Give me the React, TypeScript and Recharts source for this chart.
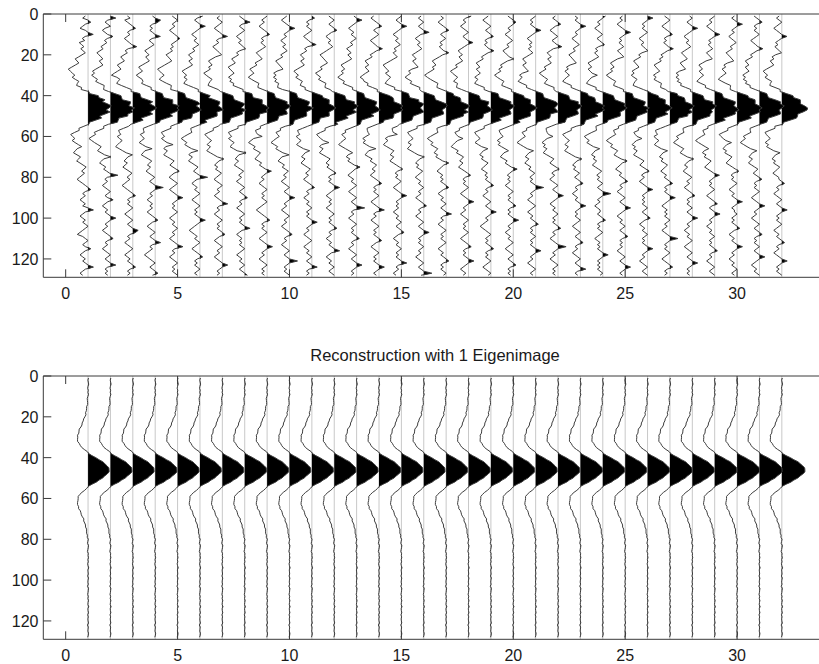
import React from 'react';
import { ComposedChart, Area, Line, XAxis, YAxis, ReferenceLine } from 'recharts';

// ---------- data ----------
const SAMPLES = [
  1, 2, 3, 4, 5, 6, 7, 8, 9, 10, 11, 12, 13, 14, 15, 16,
  17, 18, 19, 20, 21, 22, 23, 24, 25, 26, 27, 28, 29, 30, 31, 32,
  33, 34, 35, 36, 37, 38, 39, 40, 41, 42, 43, 44, 45, 46, 47, 48,
  49, 50, 51, 52, 53, 54, 55, 56, 57, 58, 59, 60, 61, 62, 63, 64,
  65, 66, 67, 68, 69, 70, 71, 72, 73, 74, 75, 76, 77, 78, 79, 80,
  81, 82, 83, 84, 85, 86, 87, 88, 89, 90, 91, 92, 93, 94, 95, 96,
  97, 98, 99, 100, 101, 102, 103, 104, 105, 106, 107, 108, 109, 110, 111, 112,
  113, 114, 115, 116, 117, 118, 119, 120, 121, 122, 123, 124, 125, 126, 127, 128,
];
const TRACES = [1, 2, 3, 4, 5, 6, 7, 8, 9, 10, 11, 12, 13, 14, 15, 16, 17, 18, 19, 20, 21, 22, 23, 24, 25, 26, 27, 28, 29, 30, 31, 32];
const X_TICKS = [0, 5, 10, 15, 20, 25, 30];
const Y_TICKS = [0, 20, 40, 60, 80, 100, 120];
const TITLE_BOTTOM = 'Reconstruction with 1 Eigenimage';

// common pulse (value at each sample)
const WAVELET = [
  0, 0, 0, 0, 0, 0, 0, 0, 0, -0.01, -0.01, -0.02, -0.03, -0.04, -0.05, -0.07,
  -0.09, -0.11, -0.13, -0.16, -0.19, -0.23, -0.27, -0.31, -0.35, -0.39, -0.43, -0.46, -0.49, -0.5, -0.5, -0.48,
  -0.44, -0.38, -0.29, -0.18, -0.07, 0.04, 0.2, 0.36, 0.52, 0.68, 0.81, 0.92, 0.98, 1, 0.98, 0.92,
  0.81, 0.68, 0.52, 0.36, 0.2, 0.04, -0.07, -0.18, -0.29, -0.38, -0.44, -0.48, -0.5, -0.5, -0.49, -0.46,
  -0.43, -0.39, -0.35, -0.31, -0.27, -0.23, -0.19, -0.16, -0.13, -0.11, -0.09, -0.07, -0.05, -0.04, -0.03, -0.02,
  -0.01, -0.01, 0, 0, 0, 0, 0, 0, 0, 0, 0, 0, 0, 0, 0, 0,
  0, 0, 0, 0, 0, 0, 0, 0, 0, 0, 0, 0, 0, 0, 0, 0,
  0, 0, 0, 0, 0, 0, 0, 0, 0, 0, 0, 0, 0, 0, 0, 0,
];
const AMPS = [0.94, 0.96, 0.95, 0.97, 0.96, 0.95, 0.96, 0.97, 0.96, 0.95, 0.96, 0.97, 0.96, 0.97, 0.96, 0.95,
  0.96, 0.97, 0.96, 0.95, 0.96, 0.97, 0.98, 0.97, 0.96, 0.98, 0.99, 0.98, 0.99, 1.0, 1.01, 1.03];

// noise of each raw trace, in noise units (NOISE_UNIT trace units)
const NOISE_UNIT = 0.12;
const NOISE_01 = [-1,-2,0,1,-1,-2,-3,-1,0,2,-1,-2,-1,-3,-2,-1, -2,-1,0,-1,-2,-3,-2,-1,-2,-3,-4,-3,-2,-1,-2,-1, 0,-1,-2,-1,-2,0,-1,1,0,1,-1,0,1,0,-1,1, 0,-1,1,0,-1,0,-1,-2,-1,-2,-3,-2,-1,-2,-1,0, 1,-1,-2,-3,-2,-1,-2,-3,-2,-1,0,-1,-2,-1,-2,-3, -4,-3,-2,-1,0,1,-1,-2,-1,-2,-3,-2,-1,-2,0,2, -1,-2,-3,-2,-1,-2,-1,0,-1,-2,-3,-4,-2,-1,0,-1, -2,-1,1,-1,-2,-3,-2,-1,-2,-1,0,2,-1,-2,-3,-2];
const NOISE_02 = [0,2,-1,-2,-1,0,-2,-3,-2,-1,1,-1,-2,-1,-2,-3, -2,-3,-4,-3,-2,-1,-2,-1,0,-1,-2,-3,-2,-3,-2,-1, -2,-1,0,-1,-2,-1,0,1,0,-1,1,0,-1,1,0,1, 0,1,-1,0,1,-1,-2,-1,-2,-3,-2,-3,-4,-3,-2,-1, 0,-1,-2,-1,0,2,-1,-2,-3,-2,-1,-2,-1,0,3,-1, -2,-1,-2,-3,-2,-1,0,-1,-2,-1,1,-1,-2,-3,-2,-1, -2,-1,0,2,0,-1,-2,-1,-2,-3,-2,-1,0,1,-1,-2, -1,-2,-3,-2,-1,0,-1,-2,-1,0,2,-1,-2,-1,-2,-1];
const NOISE_03 = [-2,-1,-3,-2,-1,0,1,-1,-2,-1,-2,-3,-2,-1,0,2, -1,-2,-1,-2,-3,-2,-1,-2,-3,-2,-1,-2,-3,-4,-2,-1, -2,-3,-2,-1,0,-1,1,0,-1,0,1,-1,0,1,0,-1, 1,0,-1,1,0,-1,-1,-2,-3,-2,-1,-2,-1,0,-1,-2, -3,-2,-1,0,2,0,-1,-2,-1,-2,-3,-2,-1,0,-1,-2, -1,-2,-3,-4,-3,-2,-1,0,1,-1,-2,-1,-2,-1,0,-1, -2,-3,-2,-1,0,-1,-2,-1,0,2,1,-1,-2,-1,-2,-3, -2,-1,0,-1,-2,-3,-2,-1,-2,-1,0,1,-1,-2,-1,-2];
const NOISE_04 = [-1,0,2,1,-1,-2,-1,-2,-1,0,2,-1,-2,-1,0,-1, -2,-3,-2,-1,-2,-1,0,-1,-2,-3,-2,-1,-2,-3,-2,-1, -1,-2,-1,0,-1,0,1,0,-1,1,0,-1,1,0,1,0, -1,1,0,-1,0,-1,-2,-3,-2,-1,-2,-1,0,-1,-2,-1, 0,2,-1,-2,-3,-2,-1,0,-1,-2,-1,-2,-3,-2,-1,0, -1,-2,-1,0,3,0,-1,-2,-1,-2,-3,-2,-1,-2,-1,-2, -3,-2,-1,0,1,-1,-2,-3,-2,-1,0,-1,-2,-1,0,2, -1,-2,-1,-2,-3,-4,-3,-2,-1,0,-1,-2,-1,0,1,-1];
const NOISE_05 = [-2,-1,0,-1,-2,-1,-2,-3,-2,-1,0,1,0,-1,-2,-1, -2,-1,-2,-3,-2,-1,0,-1,-2,-3,-4,-3,-2,-1,-2,-3, -2,-1,0,-1,-2,0,1,0,-1,0,1,1,-1,0,1,0, -1,0,1,-1,0,-1,-2,-1,-2,-3,-2,-1,-2,-1,0,2, -1,-2,-1,-2,-3,-2,-1,0,-1,-2,-1,0,1,-1,-2,-3, -2,-1,0,-1,-2,-3,-2,-1,0,2,0,-1,-2,-1,-2,-1, 0,-1,-2,-3,-2,-1,-2,-1,0,-1,-2,-1,-2,-3,-2,-1, 0,2,-1,-2,-1,-2,-3,-2,-1,0,-1,-2,-1,-2,-1,0];
const NOISE_06 = [1,-1,-2,-1,0,2,0,-1,-2,-3,-2,-1,-2,-1,0,-1, -2,-1,-2,-3,-2,-1,-2,-1,0,-1,-2,-3,-2,-1,-2,-1, -2,-3,-2,-1,0,-1,0,1,-1,0,1,0,-1,0,1,-1, 0,1,0,-1,1,0,-1,-2,-1,0,-1,-2,-3,-2,-1,-2, -1,0,2,-1,-2,-1,-2,-3,-2,-1,0,-1,-2,-1,0,3, -1,-2,-3,-2,-1,-2,-1,0,-1,-2,-3,-2,-1,0,-1,-2, -1,-2,-1,0,2,0,-1,-2,-3,-4,-3,-2,-1,-2,-1,0, -1,-2,-3,-2,-1,0,1,-1,-2,-1,-2,-1,0,-1,-2,-1];
const NOISE_07 = [-1,-2,-1,0,-1,-2,-3,-2,-1,0,2,-1,-2,-1,-2,-3, -2,-1,0,1,-1,-2,-3,-2,-1,-2,-1,-2,-3,-2,-1,0, -1,-2,-3,-2,-1,-1,0,1,0,-1,0,1,0,-1,1,0, 1,0,-1,0,1,-1,-1,-2,-1,-2,-3,-2,-1,0,-1,-2, -1,-2,-3,-2,-1,0,2,0,-1,-2,-1,-2,-1,0,-1,-2, -3,-2,-1,0,-1,-2,-1,-2,-3,-2,-1,0,2,-1,-2,-1, -2,-3,-2,-1,0,-1,-2,-1,-2,-1,0,1,-1,-2,-3,-2, -1,0,-1,-2,-1,-2,-3,-2,-1,0,2,0,-1,-2,-1,-2];
const NOISE_08 = [-2,-1,0,2,-1,-2,-1,0,-1,-2,-3,-2,-1,-2,-1,0, 1,-1,-2,-1,-2,-3,-2,-1,-2,-3,-2,-1,0,-1,-2,-1, -2,-1,-2,-1,0,-1,1,0,-1,1,0,-1,0,1,0,1, -1,0,1,0,-1,0,-2,-1,-2,-3,-2,-1,-2,-1,0,-1, -2,-1,0,3,0,-1,-2,-1,-2,-3,-2,-1,0,-1,-2,-1, -2,-3,-2,-1,0,-1,-2,-1,0,1,-1,-2,-1,-2,-3,-2, -1,0,-1,-2,-1,-2,-1,0,2,-1,-2,-3,-2,-1,-2,-1, -2,-1,0,-1,-2,-3,-2,-1,-2,-1,0,-1,-2,-1,0,1];
const NOISE_09 = [0,-1,-2,-1,-2,-3,-2,-1,0,1,-1,-2,-1,-2,-1,0, -1,-2,-3,-2,-1,0,-1,-2,-1,-2,-3,-2,-1,-2,-3,-2, -1,0,-1,-2,-1,0,1,0,-1,0,1,0,1,0,-1,0, 1,-1,0,1,0,-1,-2,-1,-2,-1,0,2,-1,-2,-3,-2, -1,-2,-1,0,-1,-2,-3,-2,-1,-2,-1,0,2,0,-1,-2, -1,-2,-3,-2,-1,0,-1,-2,-1,-2,-1,0,-1,-2,-3,-4, -3,-2,-1,0,1,-1,-2,-1,-2,-1,0,-1,-2,-3,-2,-1, 0,2,0,-1,-2,-1,-2,-3,-2,-1,0,-1,-2,-1,-2,-1];
const NOISE_10 = [-1,-2,-3,-2,-1,0,2,0,-1,-2,-1,-2,-3,-2,-1,-2, -1,0,-1,-2,-1,-2,-3,-2,-1,0,1,-1,-2,-1,-2,-1, -2,-1,-2,-3,-2,0,1,0,-1,0,1,0,-1,1,0,-1, 0,1,0,-1,0,1,-1,-2,-1,-2,-1,0,-1,-2,-3,-2, -1,-2,-1,0,2,-1,-2,-3,-2,-1,-2,-1,0,-1,-2,-1, -2,-3,-2,-1,0,-1,-2,-1,0,2,0,-1,-2,-1,-2,-3, -2,-1,0,-1,-2,-1,-2,-3,-2,-1,0,1,-1,-2,-1,-2, -3,-2,-1,0,-1,-2,-1,0,3,0,-1,-2,-1,-2,-1,0];
const NOISE_11 = [0,1,-1,-2,-1,-2,-1,0,-1,-2,-3,-2,-1,0,2,-1, -2,-1,-2,-3,-2,-1,-2,-1,0,-1,-2,-3,-2,-1,-2,-1, 0,-1,-2,-1,-2,-1,0,1,0,1,0,-1,0,1,0,-1, 0,1,-1,0,1,0,-1,-2,-3,-2,-1,-2,-1,0,-1,-2, -1,0,2,0,-1,-2,-1,-2,-3,-2,-1,0,-1,-2,-1,-2, -3,-2,-1,0,1,-1,-2,-1,-2,-3,-2,-1,-2,-1,0,-1, -2,-1,-2,-1,0,2,0,-1,-2,-1,-2,-3,-2,-1,0,-1, -2,-3,-2,-1,-2,-1,0,-1,-2,-1,0,2,-1,-2,-1,-2];
const NOISE_12 = [-2,-1,0,-1,-2,-1,0,1,-1,-2,-3,-2,-1,-2,-1,0, -1,-2,-3,-4,-3,-2,-1,0,-1,-2,-1,-2,-3,-2,-1,-2, -1,0,-1,-2,-1,-1,0,1,0,-1,1,0,1,0,-1,1, 0,-1,1,0,-1,1,-1,-2,-1,-2,-3,-2,-1,0,2,-1, -2,-1,-2,-3,-2,-1,0,-1,-2,-1,-2,-1,0,1,-1,-2, -1,-2,-1,0,2,0,-1,-2,-3,-2,-1,-2,-1,-2,-3,-2, -1,0,-1,-2,-1,-2,-1,0,1,-1,-2,-1,-2,-3,-2,-1, -2,-1,0,2,-1,-2,-3,-2,-1,-2,-1,0,-1,-2,-1,0];
const NOISE_13 = [-1,0,2,0,-1,-2,-3,-2,-1,-2,-1,0,-1,-2,-1,-2, -3,-2,-1,-2,-1,0,-1,-2,-3,-2,-1,-2,-1,-2,-3,-2, -1,-2,-1,0,-1,0,1,0,-1,0,1,0,-1,0,1,0, -1,1,0,-1,0,1,0,-1,-2,-1,-2,-1,0,-1,-2,-3, -2,-1,0,1,-1,-2,-1,-2,-1,0,2,0,-1,-2,-3,-2, -1,-2,-1,0,-1,-2,-3,-2,-1,0,-1,-2,-1,0,3,-1, -2,-1,-2,-3,-2,-1,0,-1,-2,-1,-2,-1,0,1,-1,-2, -1,-2,-3,-2,-1,0,-1,-2,-1,0,2,0,-1,-2,-1,-2];
const NOISE_14 = [-2,-3,-2,-1,0,1,-1,-2,-1,0,-1,-2,-3,-2,-1,0, 2,0,-1,-2,-1,-2,-3,-2,-1,-2,-1,0,-1,-2,-3,-2, -2,-1,-2,-1,0,-1,0,1,1,0,-1,0,1,0,1,0, -1,0,1,-1,0,-1,-2,-3,-2,-1,0,-1,-2,-1,-2,-1, 0,2,-1,-2,-3,-2,-1,-2,-1,0,-1,-2,-1,-2,-3,-2, -1,0,1,-1,-2,-1,-2,-1,0,-1,-2,-3,-2,-1,0,2, -1,-2,-1,-2,-3,-2,-1,0,-1,-2,-1,-2,-1,0,1,-1, -2,-3,-2,-1,0,-1,-2,-1,-2,-1,0,2,0,-1,-2,-1];
const NOISE_15 = [0,-1,-2,-1,0,2,0,-1,-2,-3,-2,-1,-2,-1,0,-1, -2,-1,-2,-1,0,-1,-2,-3,-4,-3,-2,-1,-2,-1,0,-1, -2,-3,-2,-1,-2,0,1,0,-1,1,0,1,0,-1,0,1, 0,-1,0,1,0,-1,-1,-2,-1,0,2,-1,-2,-1,-2,-3, -2,-1,0,-1,-2,-1,-2,-3,-2,-1,0,1,-1,-2,-1,-2, -1,0,-1,-2,-3,-2,-1,0,2,0,-1,-2,-1,-2,-1,-2, -3,-2,-1,-2,-1,0,-1,-2,-1,0,1,-1,-2,-3,-2,-1, -2,-1,0,-1,-2,-1,-2,-1,0,2,-1,-2,-1,-2,-3,-2];
const NOISE_16 = [-1,-2,-1,0,-1,-2,-1,0,2,-1,-2,-3,-2,-1,-2,-1, 0,-1,-2,-3,-2,-1,-2,-1,0,1,-1,-2,-1,-2,-3,-2, -1,-2,-1,0,-1,-1,0,1,0,-1,0,1,1,0,-1,0, 1,0,-1,0,1,0,-2,-1,-2,-3,-2,-1,0,-1,-2,-1, -2,-3,-2,-1,0,2,0,-1,-2,-1,-2,-1,0,-1,-2,-3, -2,-1,-2,-1,0,-1,-2,-1,-2,-3,-2,-1,0,1,-1,-2, -1,-2,-3,-2,-1,0,-1,-2,-1,0,2,0,-1,-2,-1,-2, -1,0,-1,-2,-1,-2,-3,-2,-1,0,-1,-2,-1,0,3,-1];
const NOISE_17 = [-2,-1,-2,-3,-2,-1,0,1,-1,-2,-1,0,-1,-2,-1,-2, -1,0,2,0,-1,-2,-3,-2,-1,-2,-1,-2,-3,-4,-3,-2, -1,0,-1,-2,-1,0,1,0,1,0,-1,0,1,0,-1,1, 0,1,0,-1,0,1,-1,-2,-1,0,-1,-2,-3,-2,-1,-2, -1,0,-1,-2,-1,-2,-1,0,2,0,-1,-2,-3,-2,-1,-2, -1,-2,-1,0,1,-1,-2,-3,-2,-1,-2,-1,0,-1,-2,-1, 0,2,-1,-2,-1,-2,-3,-2,-1,0,-1,-2,-1,-2,-1,0, -1,-2,-3,-2,-1,-2,-1,0,1,-1,-2,-1,-2,-1,0,-1];
const NOISE_18 = [1,-1,-2,-1,-2,-3,-2,-1,0,-1,-2,-1,0,2,0,-1, -2,-3,-2,-1,-2,-1,0,-1,-2,-1,-2,-3,-2,-1,0,-1, -2,-1,-2,-3,-2,-1,0,1,0,-1,1,0,-1,0,1,0, -1,0,1,0,-1,0,-1,-2,-1,-2,-1,0,2,0,-1,-2, -3,-2,-1,-2,-1,0,-1,-2,-1,-2,-3,-2,-1,0,1,-1, -2,-1,-2,-1,0,-1,-2,-3,-2,-1,0,2,0,-1,-2,-1, -2,-3,-2,-1,0,-1,-2,-1,-2,-1,0,-1,-2,-3,-2,-1, 0,1,-1,-2,-1,-2,-1,0,2,0,-1,-2,-3,-2,-1,-2];
const NOISE_19 = [-1,-2,-3,-2,-1,0,-1,-2,-1,0,1,-1,-2,-1,-2,-1, 0,2,0,-1,-2,-1,-2,-3,-2,-1,-2,-1,0,-1,-2,-1, -2,-3,-2,-1,-2,-1,1,0,-1,0,1,0,1,0,-1,0, 1,0,-1,1,0,-1,-2,-1,-2,-3,-2,-1,0,-1,-2,-1, 0,2,0,-1,-2,-1,-2,-1,0,-1,-2,-3,-2,-1,-2,-1, -2,-1,0,1,-1,-2,-1,-2,-3,-2,-1,0,-1,-2,-1,0, 2,0,-1,-2,-1,-2,-3,-4,-3,-2,-1,0,-1,-2,-1,-2, -1,0,1,-1,-2,-1,-2,-1,0,-1,-2,-3,-2,-1,0,-1];
const NOISE_20 = [-2,-1,0,1,0,-1,-2,-1,-2,-3,-2,-1,0,-1,-2,-1, -2,-3,-2,-1,0,2,0,-1,-2,-1,-2,-1,-2,-3,-2,-1, 0,-1,-2,-1,0,-1,0,1,0,1,0,-1,0,1,0,-1, 0,1,0,-1,1,0,-1,-2,-3,-2,-1,0,-1,-2,-1,-2, -1,0,1,-1,-2,-3,-2,-1,-2,-1,0,2,0,-1,-2,-1, -2,-1,-2,-3,-2,-1,0,-1,-2,-1,-2,-1,0,1,-1,-2, -1,-2,-1,0,2,0,-1,-2,-1,-2,-3,-2,-1,-2,-1,0, -1,-2,-3,-2,-1,0,-1,-2,-1,0,1,-1,-2,-1,-2,-1];
const NOISE_21 = [0,-1,-2,-1,-2,-1,0,2,0,-1,-2,-3,-2,-1,-2,-1, -2,-1,0,-1,-2,-3,-2,-1,-2,-1,0,1,-1,-2,-1,-2, -3,-2,-1,-2,-1,0,1,0,-1,0,1,1,0,-1,0,1, -1,0,1,0,-1,0,-1,-2,-1,-2,-1,0,-1,-2,-3,-2, -1,0,2,0,-1,-2,-1,-2,-3,-2,-1,-2,-1,0,-1,-2, -1,-2,-1,0,3,0,-1,-2,-1,-2,-3,-2,-1,0,-1,-2, -3,-2,-1,-2,-1,0,1,-1,-2,-1,-2,-1,0,-1,-2,-1, -2,-1,0,2,0,-1,-2,-1,-2,-3,-2,-1,0,-1,-2,-1];
const NOISE_22 = [-1,-2,-1,0,1,-1,-2,-3,-2,-1,0,-1,-2,-1,0,2, -1,-2,-3,-2,-1,-2,-1,0,-1,-2,-1,-2,-3,-2,-1,0, -1,-2,-1,0,-1,-1,0,1,0,-1,1,0,1,0,-1,0, 1,0,-1,0,1,-1,-2,-3,-2,-1,0,2,0,-1,-2,-1, -2,-1,-2,-3,-2,-1,0,-1,-2,-1,0,1,-1,-2,-1,-2, -3,-2,-1,0,-1,-2,-1,0,2,0,-1,-2,-3,-2,-1,-2, -1,0,-1,-2,-1,-2,-1,0,1,-1,-2,-1,-2,-3,-2,-1, 0,3,0,-1,-2,-1,-2,-3,-2,-1,0,-1,-2,-1,-2,-1];
const NOISE_23 = [-2,-1,-2,-1,0,2,0,-1,-2,-1,-2,-3,-2,-1,0,-1, -2,-1,-2,-3,-2,-1,0,1,-1,-2,-1,-2,-1,0,-1,-2, -3,-2,-1,-2,-1,0,1,0,1,0,-1,0,1,0,1,0, -1,1,0,-1,0,1,-1,-2,-1,-2,-3,-2,-1,0,-1,-2, -1,-2,-3,-2,-1,0,2,0,-1,-2,-1,-2,-1,0,-1,-2, -1,0,1,-1,-2,-1,-2,-3,-2,-1,-2,-1,0,2,0,-1, -2,-1,-2,-1,0,-1,-2,-3,-2,-1,0,-1,-2,-1,0,1, -1,-2,-1,-2,-3,-2,-1,0,-1,-2,-1,0,2,-1,-2,-1];
const NOISE_24 = [1,0,-1,-2,-1,-2,-3,-2,-1,0,-1,-2,-1,0,1,-1, -2,-1,-2,-1,0,-1,-2,-3,-2,-1,-2,-1,0,2,0,-1, -2,-3,-2,-1,-2,-1,0,1,0,-1,0,1,0,1,0,-1, 0,1,0,-1,0,-1,-2,-1,0,-1,-2,-3,-2,-1,-2,-1, 0,2,0,-1,-2,-1,-2,-1,-2,-3,-2,-1,0,-1,-2,-1, -2,-1,0,-1,-2,-1,0,3,0,-1,-2,-1,-2,-3,-2,-1, -1,-2,-1,0,1,-1,-2,-1,-2,-1,0,-1,-2,-3,-2,-1, -2,-1,-2,-1,0,2,0,-1,-2,-1,-2,-1,-2,-1,0,-1];
const NOISE_25 = [-1,-2,-1,-2,-3,-2,-1,0,2,0,-1,-2,-1,-2,-1,0, -1,-2,-1,0,1,-1,-2,-3,-2,-1,-2,-1,-2,-3,-2,-1, 0,-1,-2,-1,0,-1,1,0,-1,0,1,0,-1,1,0,1, 0,-1,0,1,0,-1,-2,-1,-2,-1,0,-1,-2,-3,-2,-1, -2,-1,0,-1,-2,-1,0,2,0,-1,-2,-3,-2,-1,-2,-1, 0,1,-1,-2,-1,-2,-3,-2,-1,0,-1,-2,-1,0,2,0, -1,-2,-3,-2,-1,-2,-1,0,-1,-2,-1,0,1,-1,-2,-1, -2,-1,-2,-3,-2,-1,0,-1,-2,-1,0,2,0,-1,-2,-1];
const NOISE_26 = [0,2,0,-1,-2,-1,-2,-1,0,-1,-2,-3,-2,-1,-2,-1, 0,1,-1,-2,-1,-2,-3,-2,-1,0,-1,-2,-1,-2,-1,0, -1,-2,-3,-2,-1,0,0,1,0,1,0,-1,0,1,0,-1, 1,0,-1,0,1,0,-1,-2,-1,-2,-1,0,2,0,-1,-2, -1,-2,-1,-2,-3,-2,-1,0,-1,-2,-1,0,1,-1,-2,-1, -2,-3,-2,-1,0,2,0,-1,-2,-1,-2,-1,-2,-1,0,-1, -2,-1,0,1,-1,-2,-3,-2,-1,-2,-1,0,-1,-2,-1,-2, -1,0,2,0,-1,-2,-1,-2,-3,-2,-1,0,-1,-2,-1,0];
const NOISE_27 = [-2,-1,0,-1,-2,-3,-2,-1,0,1,-1,-2,-1,-2,-1,0, 2,0,-1,-2,-1,-2,-1,-2,-3,-2,-1,0,-1,-2,-1,-2, -1,0,-1,-2,-1,-1,1,0,1,0,-1,0,1,0,-1,1, 0,1,-1,0,1,0,-1,-2,-3,-2,-1,-2,-1,0,-1,-2, -1,0,2,0,-1,-2,-1,-2,-1,0,-1,-2,-3,-2,-1,-2, -1,0,1,-1,-2,-1,-2,-1,0,2,0,-1,-2,-3,-2,-1, -2,-1,-2,-1,0,-1,-2,-1,-2,-3,-2,-1,0,3,0,-1, -2,-1,-2,-1,0,-1,-2,-3,-2,-1,0,1,-1,-2,-1,-2];
const NOISE_28 = [-1,0,-1,-2,-1,0,2,0,-1,-2,-3,-2,-1,-2,-1,0, -1,-2,-3,-2,-1,0,-1,-2,-1,0,1,-1,-2,-1,-2,-1, -2,-1,-2,-1,0,-1,0,1,0,-1,1,0,1,0,-1,0, 0,1,0,-1,0,1,-1,-2,-1,0,-1,-2,-1,-2,-3,-2, -1,0,-1,-2,-1,0,2,0,-1,-2,-1,-2,-3,-2,-1,0, -1,-2,-1,-2,-3,-2,-1,0,1,-1,-2,-1,-2,-1,0,-1, -2,-1,0,2,0,-1,-2,-1,-2,-3,-2,-1,-2,-1,0,-1, -2,-3,-2,-1,0,-1,-2,-1,0,2,0,-1,-2,-1,-2,-1];
const NOISE_29 = [0,-1,-2,-1,-2,-3,-2,-1,0,2,0,-1,-2,-1,-2,-1, 0,-1,-2,-1,0,1,-1,-2,-3,-2,-1,-2,-1,0,-1,-2, -3,-2,-1,-2,-1,0,1,0,-1,0,1,0,-1,0,1,0, 1,0,-1,1,0,-1,-2,-1,-2,-1,0,-1,-2,-3,-2,-1, 0,1,-1,-2,-1,-2,-1,0,-1,-2,-3,-2,-1,0,2,0, -1,-2,-1,-2,-1,0,-1,-2,-3,-2,-1,0,1,-1,-2,-1, 0,2,0,-1,-2,-1,-2,-3,-2,-1,-2,-1,0,-1,-2,-1, -2,-1,0,1,-1,-2,-1,-2,-3,-2,-1,0,-1,-2,-1,0];
const NOISE_30 = [-1,-2,-1,0,2,0,-1,-2,-1,-2,-3,-2,-1,0,-1,-2, -1,-2,-3,-2,-1,0,1,-1,-2,-1,-2,-1,0,-1,-2,-3, -2,-1,0,-1,-2,-1,0,1,0,1,0,-1,0,1,0,1, 0,-1,1,0,-1,0,-1,-2,-1,-2,-3,-2,-1,0,2,0, -1,-2,-1,-2,-1,0,-1,-2,-3,-2,-1,0,1,-1,-2,-1, -2,-1,0,-1,-2,-3,-2,-1,-2,-1,0,2,0,-1,-2,-1, -1,0,-1,-2,-1,-2,-1,0,1,-1,-2,-3,-2,-1,-2,-1, 0,2,0,-1,-2,-1,-2,-3,-2,-1,-2,-1,0,-1,-2,-1];
const NOISE_31 = [-2,-1,0,1,-1,-2,-1,-2,-1,0,-1,-2,-3,-2,-1,0, 2,0,-1,-2,-1,-2,-3,-2,-1,-2,-1,0,-1,-2,-1,-2, -1,-2,-1,-2,-1,0,1,0,-1,0,1,0,1,0,-1,0, 1,0,-1,0,1,0,-1,-2,-1,0,-1,-2,-1,-2,-3,-2, -1,0,2,0,-1,-2,-1,-2,-3,-2,-1,0,-1,-2,-1,0, 1,-1,-2,-1,-2,-1,0,-1,-2,-3,-2,-1,0,2,0,-1, -2,-1,-2,-3,-2,-1,0,-1,-2,-1,0,1,-1,-2,-1,-2, -1,0,-1,-2,-1,0,2,0,-1,-2,-3,-2,-1,-2,-1,0];
const NOISE_32 = [-1,-2,-1,0,-1,-2,-3,-2,-1,0,2,0,-1,-2,-1,-2, -1,0,1,-1,-2,-1,-2,-1,0,-1,-2,-3,-2,-1,-2,-1, 0,-1,-2,-1,0,-1,0,1,0,1,0,-1,0,1,1,0, -1,0,1,0,-1,0,-2,-1,-2,-3,-2,-1,0,-1,-2,-1, -2,-1,0,2,0,-1,-2,-1,-2,-1,0,-1,-2,-3,-2,-1, -1,0,1,-1,-2,-1,-2,-3,-2,-1,0,-1,-2,-1,0,2, 0,-1,-2,-1,-2,-1,0,-1,-2,-3,-2,-1,-2,-1,0,1, -1,-2,-1,-2,-3,-2,-1,0,2,0,-1,-2,-1,-2,-1,0];
const NOISE = [NOISE_01, NOISE_02, NOISE_03, NOISE_04, NOISE_05, NOISE_06, NOISE_07, NOISE_08, NOISE_09, NOISE_10,
  NOISE_11, NOISE_12, NOISE_13, NOISE_14, NOISE_15, NOISE_16, NOISE_17, NOISE_18, NOISE_19, NOISE_20,
  NOISE_21, NOISE_22, NOISE_23, NOISE_24, NOISE_25, NOISE_26, NOISE_27, NOISE_28, NOISE_29, NOISE_30,
  NOISE_31, NOISE_32];

// small residual left in the rank-1 eigenimage, hundredths of a trace unit
const RESIDUAL = [2,-1,1,3,0,-2,1,-1,2,0,-3,-1,1,2,-2,0, 1,-1,3,1,-2,0,-1,2,1,-3,0,2,-1,1,0,-2, 2,1,-1,0,3,-1,-2,1,0,2,-1,-2,1,0,2,-1, -2,1,0,3,-1,-2,1,2,0,-1,-3,1,2,0,-1,1, -2,2,1,-1,0,3,-2,0,1,-1,2,0,-2,1,-1,3, 0,-2,2,1,-1,-3,1,0,2,-1,1,-2,0,3,-1,0, 1,-2,2,0,-1,1,-3,2,1,0,-2,1,-1,2,0,-1, 3,-1,0,2,-2,1,-1,0,2,-3,1,0,-1,2,1,-2];

// ---------- layout ----------
const CHART_W = 900;
const CHART_H = 320;
const PLOT_LEFT = 43.3;
const PLOT_TOP = 14;
const PLOT_W = 783.3;
const PLOT_H = 263.3;
const XAXIS_H = 30;
const AXIS_COLOR = '#3a3a3a';
const FONT = '"Liberation Sans", Arial, sans-serif';

function buildRows(kind: 'raw' | 'recon') {
  return SAMPLES.map((t, k) => {
    const row: Record<string, any> = { t };
    TRACES.forEach((pos, i) => {
      const v = kind === 'raw'
        ? pos + AMPS[i] * WAVELET[k] + (NOISE[i][k] ?? 0) * NOISE_UNIT
        : pos + AMPS[i] * (WAVELET[k] + (RESIDUAL[k] ?? 0) * 0.01);
      row['w' + i] = v;
      row['f' + i] = [pos, Math.max(pos, v)];
    });
    return row;
  });
}

const RAW_ROWS = buildRows('raw');
const RECON_ROWS = buildRows('recon');

const XTick = (props: any) => {
  const { x, payload } = props;
  const bottom = PLOT_TOP + PLOT_H;
  return (
    <g>
      <line x1={x} x2={x} y1={bottom} y2={bottom - 8} stroke={AXIS_COLOR} strokeWidth={1} />
      <line x1={x} x2={x} y1={PLOT_TOP} y2={PLOT_TOP + 8} stroke={AXIS_COLOR} strokeWidth={1} />
      <text x={x} y={bottom + 22} textAnchor="middle" fontFamily={FONT} fontSize={16} fill="#1a1a1a">
        {payload.value}
      </text>
    </g>
  );
};

const YTick = (props: any) => {
  const { y, payload } = props;
  return (
    <g>
      <line x1={PLOT_LEFT} x2={PLOT_LEFT + 8} y1={y} y2={y} stroke={AXIS_COLOR} strokeWidth={1} />
      <text x={38.5} y={y + 6} textAnchor="end" fontFamily={FONT} fontSize={16} fill="#1a1a1a">
        {payload.value}
      </text>
    </g>
  );
};

function WigglePanel({ rows, top }: { rows: any[]; top: number }) {
  return (
    <div style={{ position: 'absolute', left: 0, top }}>
      <ComposedChart
        layout="vertical"
        width={CHART_W}
        height={CHART_H}
        data={rows}
        margin={{ top: PLOT_TOP, left: 0, right: CHART_W - PLOT_LEFT - PLOT_W, bottom: CHART_H - PLOT_TOP - PLOT_H - XAXIS_H }}
      >
        <XAxis
          type="number"
          domain={[-1, 34]}
          allowDataOverflow
          ticks={X_TICKS}
          height={XAXIS_H}
          axisLine={{ stroke: AXIS_COLOR, strokeWidth: 1 }}
          tickLine={false}
          tick={<XTick />}
          interval={0}
        />
        <YAxis
          type="number"
          dataKey="t"
          domain={[0, 129]}
          allowDataOverflow
          ticks={Y_TICKS}
          width={PLOT_LEFT}
          axisLine={{ stroke: AXIS_COLOR, strokeWidth: 1 }}
          tickLine={false}
          tick={<YTick />}
          interval={0}
        />
        {TRACES.map((pos) => (
          <ReferenceLine key={'b' + pos} x={pos} stroke="#c8c8c8" strokeWidth={1} zIndex={50} />
        ))}
        <ReferenceLine y={0} stroke={AXIS_COLOR} strokeWidth={1} />
        {TRACES.map((pos, i) => (
          <Area
            key={'f' + pos}
            type="linear"
            dataKey={'f' + i}
            stroke="none"
            fill="#000"
            fillOpacity={1}
            isAnimationActive={false}
            dot={false}
            activeDot={false}
          />
        ))}
        {TRACES.map((pos, i) => (
          <Line
            key={'w' + pos}
            type="linear"
            dataKey={'w' + i}
            stroke="#3c3c3c"
            strokeWidth={1}
            dot={false}
            activeDot={false}
            isAnimationActive={false}
          />
        ))}
      </ComposedChart>
    </div>
  );
}

export default function App() {
  return (
    <div style={{ position: 'fixed', left: 0, top: 0, width: 819, height: 664, overflow: 'hidden', background: '#fff' }}>
      <WigglePanel rows={RAW_ROWS} top={0} />
      <svg style={{ position: 'absolute', left: 0, top: 330 }} width={819} height={40}>
        <text x={435} y={30.5} textAnchor="middle" fontFamily={FONT} fontSize={16.5} fill="#1a1a1a">
          {TITLE_BOTTOM}
        </text>
      </svg>
      <WigglePanel rows={RECON_ROWS} top={362} />
    </div>
  );
}
